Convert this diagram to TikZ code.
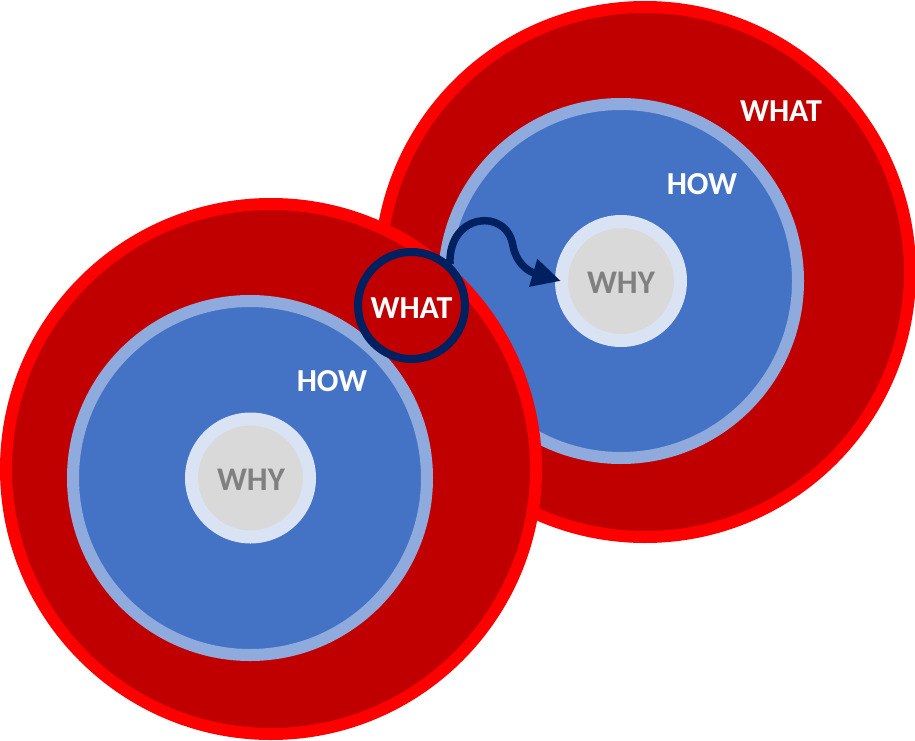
\documentclass[tikz,border=0pt]{standalone}
\usepackage{fontspec}
\setmainfont{Carlito}
\usetikzlibrary{arrows.meta}
\definecolor{ringred}{HTML}{FF0000}
\definecolor{darkred}{HTML}{C00000}
\definecolor{ringblue}{HTML}{8FAADC}
\definecolor{midblue}{HTML}{4472C4}
\definecolor{ringpale}{HTML}{DAE3F3}
\definecolor{coregray}{HTML}{D9D9D9}
\definecolor{navy}{HTML}{002060}
\definecolor{txtgray}{HTML}{808080}
\tikzset{
  whatring/.style={draw=ringred, fill=darkred, line width=12pt},
  howring/.style={draw=ringblue, fill=midblue, line width=12pt},
  whyring/.style={draw=ringpale, fill=coregray, line width=13pt},
  lbl/.style={font=\fontsize{32}{32}\selectfont\bfseries, text=white, inner sep=0pt},
  whylbl/.style={font=\fontsize{33}{33}\selectfont\bfseries, text=txtgray, inner sep=0pt},
}
\begin{document}
\begin{tikzpicture}[x=1pt,y=-1pt]
\useasboundingbox (0,0) rectangle (915,741);
% right set
\draw[whatring] (645,272) circle[radius=265];
\draw[howring] (621,281) circle[radius=177];
\draw[whyring] (621,281) circle[radius=59.5];
% left set
\draw[whatring] (271,469) circle[radius=265];
\draw[howring] (250,478) circle[radius=177];
\draw[whyring] (250.5,478) circle[radius=59];
% small what circle
\node[circle, draw=navy, line width=8pt, fill=darkred, minimum size=107pt, inner sep=0pt] (sw) at (411.5,305.5) {};
\node[lbl] (swt) at (411.5,308) {WHAT};
\coordinate (tgt) at (561,281);
\draw[navy, line width=7.5pt, -{Triangle[length=29pt,width=27pt]}]
  (450,264) .. controls (448,213) and (507,207) .. (513,246)
  .. controls (516,262) and (527,271) .. (tgt);
% labels
\node[lbl] (w1) at (781,111) {WHAT};
\node[lbl] (h1) at (702,184) {HOW};
\node[lbl] (h2) at (332,381) {HOW};
\node[whylbl] (y1) at (621,283) {WHY};
\node[whylbl] (y2) at (251,480) {WHY};
\end{tikzpicture}
\end{document}
